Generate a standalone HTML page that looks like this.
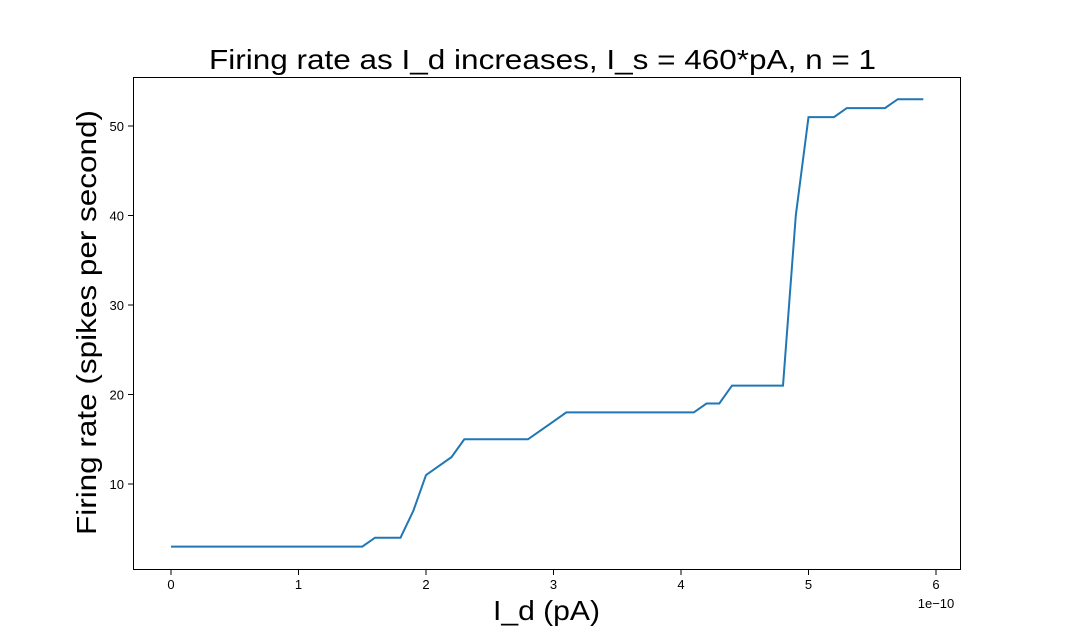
<!DOCTYPE html>
<html><head><meta charset="utf-8"><style>
body{margin:0;background:#fff;width:1067px;height:639px;overflow:hidden;font-family:"Liberation Sans",sans-serif}
</style></head><body>
<svg width="1067" height="639">
<text x="209" y="69" font-size="28" textLength="667" lengthAdjust="spacingAndGlyphs">Firing rate as I_d increases, I_s = 460*pA, n = 1</text>
<rect x="133.5" y="77.5" width="827" height="492" fill="none" stroke="#000" stroke-width="1"/>
<g id="xt"></g>
<g id="yt"></g>
<text x="493" y="620" font-size="28" textLength="107" lengthAdjust="spacingAndGlyphs">I_d (pA)</text>
<text x="936" y="608" font-size="13" text-anchor="middle">1e−10</text>
<text transform="translate(96,535) rotate(-90)" font-size="28" textLength="425" lengthAdjust="spacingAndGlyphs">Firing rate (spikes per second)</text>
<path id="line" fill="none" stroke="#1f77b4" stroke-width="2"/>
</svg>
<script>
const xTicks=[0,1,2,3,4,5,6];
const yTicks=[10,20,30,40,50];
const rates=[3,3,3,3,3,3,3,3,3,3,3,3,3,3,3,3,4,4,4,7,11,12,13,15,15,15,15,15,15,16,17,18,18,18,18,18,18,18,18,18,18,18,19,19,21,21,21,21,21,40,51,51,51,52,52,52,52,53,53,53];
const xs=rates.map((_,i)=>i/10);
const X=v=>171+v*127.5, Y=v=>573.5-v*8.95;
const ns="http://www.w3.org/2000/svg";
const xt=document.getElementById('xt'), yt=document.getElementById('yt');
xTicks.forEach(t=>{
 const l=document.createElementNS(ns,'line');
 l.setAttribute('x1',X(t));l.setAttribute('x2',X(t));l.setAttribute('y1',570);l.setAttribute('y2',575);l.setAttribute('stroke','#000');
 
 
 xt.appendChild(l);
 const s=document.createElementNS(ns,'text');
 s.setAttribute('x',X(t));s.setAttribute('y',589);s.setAttribute('font-size','13');s.setAttribute('text-anchor','middle');s.textContent=t;
 
 
 xt.appendChild(s);
});
yTicks.forEach(t=>{
 const l=document.createElementNS(ns,'line');
 l.setAttribute('x1',128);l.setAttribute('x2',133);l.setAttribute('y1',Y(t));l.setAttribute('y2',Y(t));l.setAttribute('stroke','#000');
 
 
 yt.appendChild(l);
 const s=document.createElementNS(ns,'text');
 s.setAttribute('x',124);s.setAttribute('y',Y(t)+5);s.setAttribute('font-size','13');s.setAttribute('text-anchor','end');s.textContent=t;
 
 
 yt.appendChild(s);
});
document.getElementById('line').setAttribute('d',rates.map((r,i)=>(i?'L':'M')+X(xs[i]).toFixed(1)+','+Y(r).toFixed(1)).join(''));
</script>
</body></html>
